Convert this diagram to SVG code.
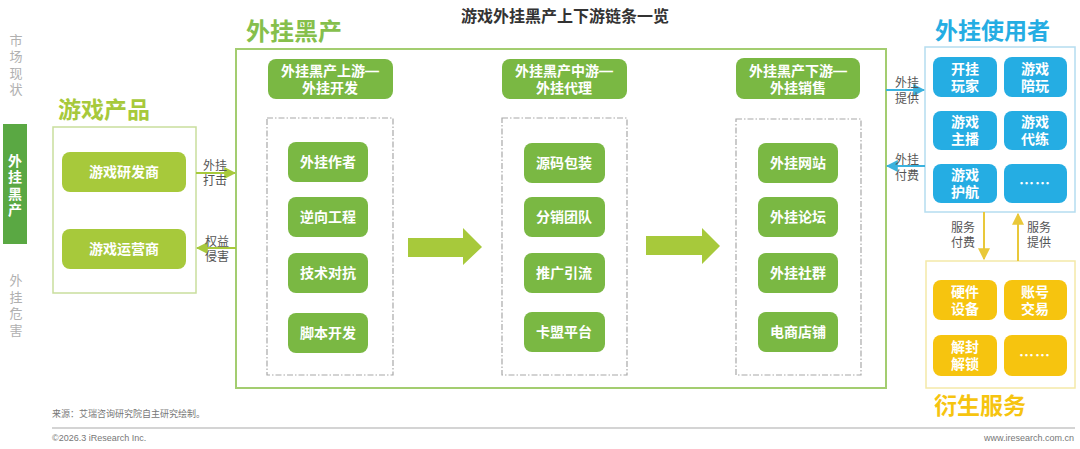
<svg xmlns="http://www.w3.org/2000/svg" width="1080" height="449" viewBox="0 0 1080 449">
<style>
text{font-family:"Liberation Sans","Noto Sans CJK SC",sans-serif}
.side{font-size:13px;fill:#b0b0b0;text-anchor:middle}
.sideOn{font-size:14px;fill:#fff;font-weight:bold;text-anchor:middle}
.big{font-size:23px;font-weight:bold}
.btn{font-size:14px;font-weight:bold;fill:#fff;text-anchor:middle}
.dots{font-family:"Noto Sans CJK SC",sans-serif;font-size:15px;font-weight:bold;fill:#fff;text-anchor:middle;letter-spacing:1px}
.lbl{font-size:12px;fill:#555;text-anchor:middle}
.yg{fill:#a7c93b}
.gr{fill:#7ab843}
.bl{fill:#25ade3}
.ye{fill:#f6c40f}
.dash{fill:none;stroke:#a8a8a8;stroke-width:1.2;stroke-dasharray:6 2 1.5 2}
.foot{font-size:9px;fill:#777}
</style>
<defs>
<marker id="ag" viewBox="0 0 10 10" refX="9" refY="5" markerWidth="6" markerHeight="6" orient="auto-start-reverse"><path d="M0,0L10,5L0,10z" fill="#a7c93b"/></marker>
<marker id="ab" viewBox="0 0 10 10" refX="9" refY="5" markerWidth="6" markerHeight="6" orient="auto-start-reverse"><path d="M0,0L10,5L0,10z" fill="#3bb2de"/></marker>
<marker id="ay" viewBox="0 0 10 10" refX="9" refY="5" markerWidth="6" markerHeight="6" orient="auto-start-reverse"><path d="M0,0L10,5L0,10z" fill="#e9c83a"/></marker>
</defs>
<rect width="1080" height="449" fill="#fff"/>

<text x="565" y="22" style="font-size:16px;font-weight:bold;fill:#333;text-anchor:middle">游戏外挂黑产上下游链条一览</text>

<g id="sidebar">
<text class="side"><tspan x="16" y="45">市</tspan><tspan x="16" y="61">场</tspan><tspan x="16" y="78">现</tspan><tspan x="16" y="94">状</tspan></text>
<rect x="3" y="124" width="24" height="120" fill="#5aa843"/>
<text class="sideOn"><tspan x="15" y="166">外</tspan><tspan x="15" y="182">挂</tspan><tspan x="15" y="199">黑</tspan><tspan x="15" y="215">产</tspan></text>
<text class="side"><tspan x="16" y="285">外</tspan><tspan x="16" y="302">挂</tspan><tspan x="16" y="318">危</tspan><tspan x="16" y="335">害</tspan></text>
</g>

<g id="game-products">
<text class="big yg" x="58" y="118">游戏产品</text>
<rect x="53" y="127" width="143" height="166" fill="none" stroke="#c9de9d" stroke-width="1.5"/>
<rect class="yg" x="62" y="152" width="124" height="40" rx="8"/>
<text class="btn" x="124" y="177">游戏研发商</text>
<rect class="yg" x="62" y="229" width="124" height="40" rx="8"/>
<text class="btn" x="124" y="254">游戏运营商</text>
</g>

<g id="black-industry">
<text class="big" x="246" y="40" style="fill:#86bf4c;font-size:24px">外挂黑产</text>
<rect x="236" y="49" width="650" height="339" fill="none" stroke="#a3cd70" stroke-width="2"/>
</g>

<g id="upstream">
<rect class="gr" x="268" y="59" width="125" height="40" rx="8"/>
<text class="btn"><tspan x="330" y="76">外挂黑产上游—</tspan><tspan x="330" y="93">外挂开发</tspan></text>
<rect class="dash" x="267" y="118" width="126" height="257"/>
<rect class="gr" x="288" y="142" width="80" height="40" rx="8"/><text class="btn" x="328" y="167">外挂作者</text>
<rect class="gr" x="288" y="197" width="80" height="40" rx="8"/><text class="btn" x="328" y="222">逆向工程</text>
<rect class="gr" x="288" y="253" width="80" height="40" rx="8"/><text class="btn" x="328" y="278">技术对抗</text>
<rect class="gr" x="288" y="313" width="80" height="40" rx="8"/><text class="btn" x="328" y="338">脚本开发</text>
</g>

<g id="midstream">
<rect class="gr" x="502" y="59" width="125" height="40" rx="8"/>
<text class="btn"><tspan x="564" y="76">外挂黑产中游—</tspan><tspan x="564" y="93">外挂代理</tspan></text>
<rect class="dash" x="502" y="118" width="125" height="257"/>
<rect class="gr" x="524" y="143" width="81" height="40" rx="8"/><text class="btn" x="564" y="168">源码包装</text>
<rect class="gr" x="524" y="197" width="81" height="40" rx="8"/><text class="btn" x="564" y="222">分销团队</text>
<rect class="gr" x="524" y="253" width="81" height="40" rx="8"/><text class="btn" x="564" y="278">推广引流</text>
<rect class="gr" x="524" y="312" width="81" height="40" rx="8"/><text class="btn" x="564" y="337">卡盟平台</text>
</g>

<g id="downstream">
<rect class="gr" x="736" y="58" width="124" height="41" rx="8"/>
<text class="btn"><tspan x="798" y="76">外挂黑产下游—</tspan><tspan x="798" y="93">外挂销售</tspan></text>
<rect class="dash" x="736" y="119" width="125" height="256"/>
<rect class="gr" x="758" y="143" width="80" height="40" rx="8"/><text class="btn" x="798" y="168">外挂网站</text>
<rect class="gr" x="758" y="197" width="80" height="40" rx="8"/><text class="btn" x="798" y="222">外挂论坛</text>
<rect class="gr" x="758" y="253" width="80" height="40" rx="8"/><text class="btn" x="798" y="278">外挂社群</text>
<rect class="gr" x="758" y="312" width="80" height="40" rx="8"/><text class="btn" x="798" y="337">电商店铺</text>
</g>

<g id="users">
<text class="big bl" x="935" y="39">外挂使用者</text>
<rect x="925" y="47" width="150" height="165" fill="none" stroke="#b5ddf0" stroke-width="1.5"/>
<rect class="bl" x="933" y="57" width="64" height="40" rx="8"/><text class="btn"><tspan x="965" y="74">开挂</tspan><tspan x="965" y="91">玩家</tspan></text>
<rect class="bl" x="1004" y="57" width="63" height="40" rx="8"/><text class="btn"><tspan x="1035" y="74">游戏</tspan><tspan x="1035" y="91">陪玩</tspan></text>
<rect class="bl" x="933" y="111" width="64" height="39" rx="8"/><text class="btn"><tspan x="965" y="127">游戏</tspan><tspan x="965" y="144">主播</tspan></text>
<rect class="bl" x="1004" y="111" width="63" height="39" rx="8"/><text class="btn"><tspan x="1035" y="127">游戏</tspan><tspan x="1035" y="144">代练</tspan></text>
<rect class="bl" x="933" y="164" width="64" height="39" rx="8"/><text class="btn"><tspan x="965" y="180">游戏</tspan><tspan x="965" y="197">护航</tspan></text>
<rect class="bl" x="1004" y="164" width="63" height="39" rx="8"/><text class="dots" x="1035" y="189">……</text>
</g>

<g id="derivatives">
<rect x="926" y="261" width="149" height="127" fill="none" stroke="#f4e9a8" stroke-width="1.5"/>
<rect class="ye" x="933" y="280" width="64" height="40" rx="8"/><text class="btn"><tspan x="965" y="297">硬件</tspan><tspan x="965" y="314">设备</tspan></text>
<rect class="ye" x="1004" y="280" width="63" height="40" rx="8"/><text class="btn"><tspan x="1035" y="297">账号</tspan><tspan x="1035" y="314">交易</tspan></text>
<rect class="ye" x="933" y="335" width="64" height="41" rx="8"/><text class="btn"><tspan x="965" y="352">解封</tspan><tspan x="965" y="369">解锁</tspan></text>
<rect class="ye" x="1004" y="335" width="63" height="41" rx="8"/><text class="dots" x="1035" y="361">……</text>
<text class="big ye" x="934" y="414">衍生服务</text>
</g>

<g id="connectors">
<line x1="196" y1="173" x2="235" y2="173" stroke="#a7c93b" stroke-width="2" marker-end="url(#ag)"/>
<line x1="236" y1="248" x2="197" y2="248" stroke="#a7c93b" stroke-width="2" marker-end="url(#ag)"/>
<text class="lbl"><tspan x="215" y="170">外挂</tspan><tspan x="215" y="185">打击</tspan></text>
<text class="lbl"><tspan x="217" y="246">权益</tspan><tspan x="217" y="261">侵害</tspan></text>

<polygon class="yg" points="408,238 463,238 463,228 482,247 463,265 463,257 408,257"/>
<polygon class="yg" points="646,236 702,236 702,228 720,246 702,264 702,255 646,255"/>

<line x1="886" y1="90" x2="924" y2="90" stroke="#3bb2de" stroke-width="2" marker-end="url(#ab)"/>
<line x1="925" y1="166" x2="887" y2="166" stroke="#3bb2de" stroke-width="2" marker-end="url(#ab)"/>
<text class="lbl"><tspan x="907" y="87">外挂</tspan><tspan x="907" y="103">提供</tspan></text>
<text class="lbl"><tspan x="907" y="164">外挂</tspan><tspan x="907" y="180">付费</tspan></text>

<line x1="984" y1="212" x2="984" y2="259" stroke="#e9c83a" stroke-width="2" marker-end="url(#ay)"/>
<line x1="1018" y1="261" x2="1018" y2="214" stroke="#e9c83a" stroke-width="2" marker-end="url(#ay)"/>
<text class="lbl"><tspan x="963" y="232">服务</tspan><tspan x="963" y="247">付费</tspan></text>
<text class="lbl"><tspan x="1039" y="232">服务</tspan><tspan x="1039" y="247">提供</tspan></text>
</g>

<g id="footer">
<text class="foot" x="52" y="417">来源：艾瑞咨询研究院自主研究绘制。</text>
<line x1="52" y1="428" x2="1075" y2="428" stroke="#aaa" stroke-width="1.2"/>
<text class="foot" x="52" y="441">©2026.3 iResearch Inc.</text>
<text class="foot" x="1074" y="441" style="text-anchor:end">www.iresearch.com.cn</text>
</g>
</svg>
